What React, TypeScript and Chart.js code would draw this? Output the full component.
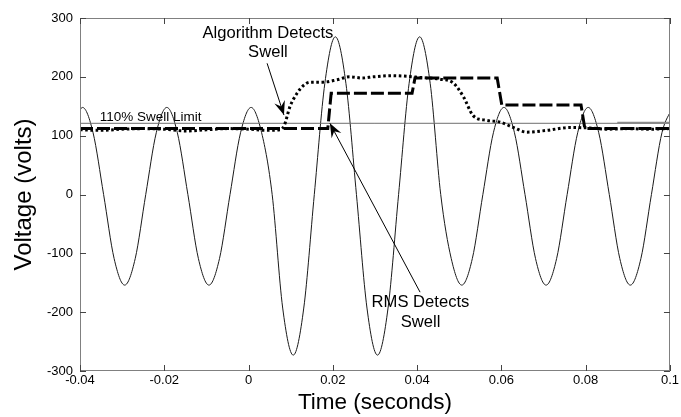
import React, { useEffect, useRef } from "react";
import { Chart, registerables } from "chart.js";
Chart.register(...registerables);

const FONT = '"Liberation Sans", Arial, Helvetica, sans-serif';

// Supply voltage waveform (seconds, volts)
const sineT = [
  -0.0419, -0.0394, -0.0369, -0.0344, -0.0319, -0.0294, -0.0269, -0.0244, -0.0219,
  -0.0194, -0.0169, -0.0144, -0.0119, -0.0094, -0.0069, -0.0044, -0.0019,
  0.0006, 0.0031, 0.0056, 0.0081, 0.0106, 0.0131, 0.0156, 0.0181,
  0.0206, 0.0231, 0.0256, 0.0281, 0.0306, 0.0331, 0.0356, 0.0381,
  0.0406, 0.0431, 0.0456, 0.0481, 0.0506, 0.0531, 0.0556, 0.0581,
  0.0606, 0.0631, 0.0656, 0.0681, 0.0706, 0.0731, 0.0756, 0.0781,
  0.0806, 0.0831, 0.0856, 0.0881, 0.0906, 0.0931, 0.0956, 0.0981, 0.1006,
];
const sineV = [
  105, 148, 105, 0, -109, -154, -109, 0, 105,
  148, 105, 0, -109, -154, -109, 0, 105,
  148, 105, 0, -193, -273, -193, 0, 189,
  268, 189, 0, -193, -273, -193, 0, 189,
  268, 189, 0, -109, -154, -109, 0, 105,
  148, 105, 0, -109, -154, -109, 0, 105,
  148, 105, 0, -109, -154, -109, 0, 105, 148,
];

// Algorithm output (dotted)
const algoT = [
  -0.04, -0.035, -0.03, -0.025, -0.02, -0.015, -0.01, -0.005, 0, 0.004, 0.0075,
  0.0085, 0.0098, 0.0115, 0.013, 0.0146, 0.0177, 0.021, 0.024, 0.027, 0.0296,
  0.0336, 0.0375, 0.0407, 0.0454, 0.0485, 0.051, 0.0533, 0.0565, 0.0597, 0.0628,
  0.066, 0.0708, 0.0763, 0.081, 0.085, 0.09, 0.095, 0.1,
];
const algoV = [
  110, 109, 111, 112, 111, 108, 110, 112, 111, 109, 110,
  118, 149, 172, 185, 191, 191, 195, 200, 198, 200,
  202, 201, 199, 196, 190, 166, 134, 126, 123, 114,
  106, 109, 114, 113, 111, 112, 111, 112,
];

// RMS output (dashed)
const rmsT = [-0.04, 0.0188, 0.0196, 0.0388, 0.0395, 0.059, 0.0601, 0.0789, 0.0798, 0.1];
const rmsV = [112, 112, 172, 172, 198, 198, 152, 152, 112, 112];

// 110% swell limit
const limitT = [-0.04, 0.1];
const limitV = [121, 121];
const stubT = [0.0875, 0.1];
const stubV = [122, 122];

const xTicks = [-0.04, -0.02, 0, 0.02, 0.04, 0.06, 0.08, 0.1];
const xTickLabels = ["-0.04", "-0.02", "0", "0.02", "0.04", "0.06", "0.08", "0.1"];
const yTicks = [-300, -200, -100, 0, 100, 200, 300];
const yTickLabels = ["-300", "-200", "-100", "0", "100", "200", "300"];

const pts = (t: number[], v: number[]) => t.map((x, i) => ({ x, y: v[i] }));

function drawArrow(ctx: CanvasRenderingContext2D, x1: number, y1: number, x2: number, y2: number) {
  ctx.beginPath();
  ctx.moveTo(x1, y1);
  ctx.lineTo(x2, y2);
  ctx.stroke();
  const a = Math.atan2(y2 - y1, x2 - x1);
  const L = 14, W = 5.5;
  const c = Math.cos(a), s = Math.sin(a);
  const bx = x2 - L * c, by = y2 - L * s;
  const nx = x2 - L * 0.65 * c, ny = y2 - L * 0.65 * s;
  ctx.beginPath();
  ctx.moveTo(x2, y2);
  ctx.lineTo(bx - W * s, by + W * c);
  ctx.lineTo(nx, ny);
  ctx.lineTo(bx + W * s, by - W * c);
  ctx.closePath();
  ctx.fill();
}

const decorPlugin = {
  id: "decor",
  afterDraw(chart: any) {
    const { ctx, chartArea, scales } = chart;
    const { left, right, top, bottom } = chartArea;
    const X = (v: number) => scales.x.getPixelForValue(v);
    const Y = (v: number) => scales.y.getPixelForValue(v);
    ctx.save();
    // frame
    ctx.strokeStyle = "#808080";
    ctx.lineWidth = 1;
    ctx.strokeRect(Math.round(left) + 0.5, Math.round(top) + 0.5, Math.round(right - left) - 1, Math.round(bottom - top) - 1);
    // inward ticks
    ctx.strokeStyle = "#444";
    ctx.beginPath();
    xTicks.forEach((v) => {
      const px = Math.round(X(v)) + 0.5;
      ctx.moveTo(px, bottom);
      ctx.lineTo(px, bottom - 6);
      ctx.moveTo(px, top);
      ctx.lineTo(px, top + 6);
    });
    yTicks.forEach((v) => {
      const py = Math.round(Y(v)) + 0.5;
      ctx.moveTo(left, py);
      ctx.lineTo(left + 6, py);
      ctx.moveTo(right, py);
      ctx.lineTo(right - 6, py);
    });
    ctx.stroke();

    // annotations
    ctx.fillStyle = "#000";
    ctx.strokeStyle = "#000";
    ctx.lineWidth = 1;
    ctx.textBaseline = "alphabetic";
    ctx.font = `13.5px ${FONT}`;
    ctx.textAlign = "left";
    ctx.fillText("110% Swell Limit", X(-0.0353), Y(125));

    ctx.font = `16.6px ${FONT}`;
    ctx.textAlign = "center";
    ctx.fillText("Algorithm Detects", X(0.0046), Y(266));
    ctx.fillText("Swell", X(0.0046), Y(234));
    drawArrow(ctx, X(0.0044), Y(223), X(0.0084), Y(135));

    ctx.fillText("RMS Detects", X(0.0408), Y(-191));
    ctx.fillText("Swell", X(0.0408), Y(-225));
    drawArrow(ctx, X(0.0407), Y(-166), X(0.0193), Y(121));
    ctx.restore();
  },
};

export default function App() {
  const ref = useRef<HTMLCanvasElement | null>(null);
  useEffect(() => {
    document.body.style.margin = "0";
    const canvas = ref.current!;
    const chart = new Chart(canvas, {
      type: "line",
      data: {
        datasets: [
          {
            data: pts(algoT, algoV),
            borderColor: "#000",
            borderWidth: 3,
            borderDash: [2.6, 2.6],
            pointRadius: 0,
            cubicInterpolationMode: "monotone",
            order: 0,
          },
          {
            data: pts(rmsT, rmsV),
            borderColor: "#000",
            borderWidth: 3,
            borderDash: [13, 4],
            pointRadius: 0,
            tension: 0,
            order: 1,
          },
          {
            data: pts(stubT, stubV),
            borderColor: "#8a8a8a",
            borderWidth: 2,
            pointRadius: 0,
            order: 2,
          },
          {
            data: pts(limitT, limitV),
            borderColor: "#6e6e6e",
            borderWidth: 1,
            pointRadius: 0,
            order: 3,
          },
          {
            data: pts(sineT, sineV),
            borderColor: "#1a1a1a",
            borderWidth: 1,
            pointRadius: 0,
            cubicInterpolationMode: "monotone",
            order: 4,
          },
        ],
      },
      options: {
        responsive: false,
        animation: false,
        layout: { padding: { top: 18, right: 11, left: 0, bottom: 0 } },
        plugins: { legend: { display: false }, tooltip: { enabled: false } },
        scales: {
          x: {
            type: "linear",
            min: -0.04,
            max: 0.1,
            afterBuildTicks: (s: any) => {
              s.ticks = xTicks.map((v) => ({ value: v }));
            },
            ticks: {
              autoSkip: false,
              maxRotation: 0,
              padding: 2,
              color: "#000",
              font: { size: 13, family: FONT },
              callback: (v: any) => xTickLabels[xTicks.findIndex((t) => Math.abs(t - v) < 1e-9)] ?? "",
            },
            grid: { display: false, drawTicks: false },
            border: { display: false },
            title: {
              display: true,
              text: "Time (seconds)",
              color: "#000",
              font: { size: 22.5, family: FONT, lineHeight: 1 },
              padding: { top: 0, bottom: 3 },
            },
            afterFit: (s: any) => {
              s.height = 46;
            },
          },
          y: {
            type: "linear",
            min: -300,
            max: 300,
            afterBuildTicks: (s: any) => {
              s.ticks = yTicks.map((v) => ({ value: v }));
            },
            ticks: {
              autoSkip: false,
              padding: 7,
              color: "#000",
              font: { size: 13, family: FONT },
              callback: (v: any) => yTickLabels[yTicks.indexOf(v)] ?? "",
            },
            grid: { display: false, drawTicks: false },
            border: { display: false },
            title: {
              display: true,
              text: "Voltage (volts)",
              color: "#000",
              font: { size: 24, family: FONT, lineHeight: 1 },
              padding: { top: 12, bottom: 0 },
            },
            afterFit: (s: any) => {
              s.width = 80;
            },
          },
        },
      },
      plugins: [decorPlugin],
    });
    return () => chart.destroy();
  }, []);
  return <canvas ref={ref} width={681} height={417} style={{ display: "block" }} />;
}
